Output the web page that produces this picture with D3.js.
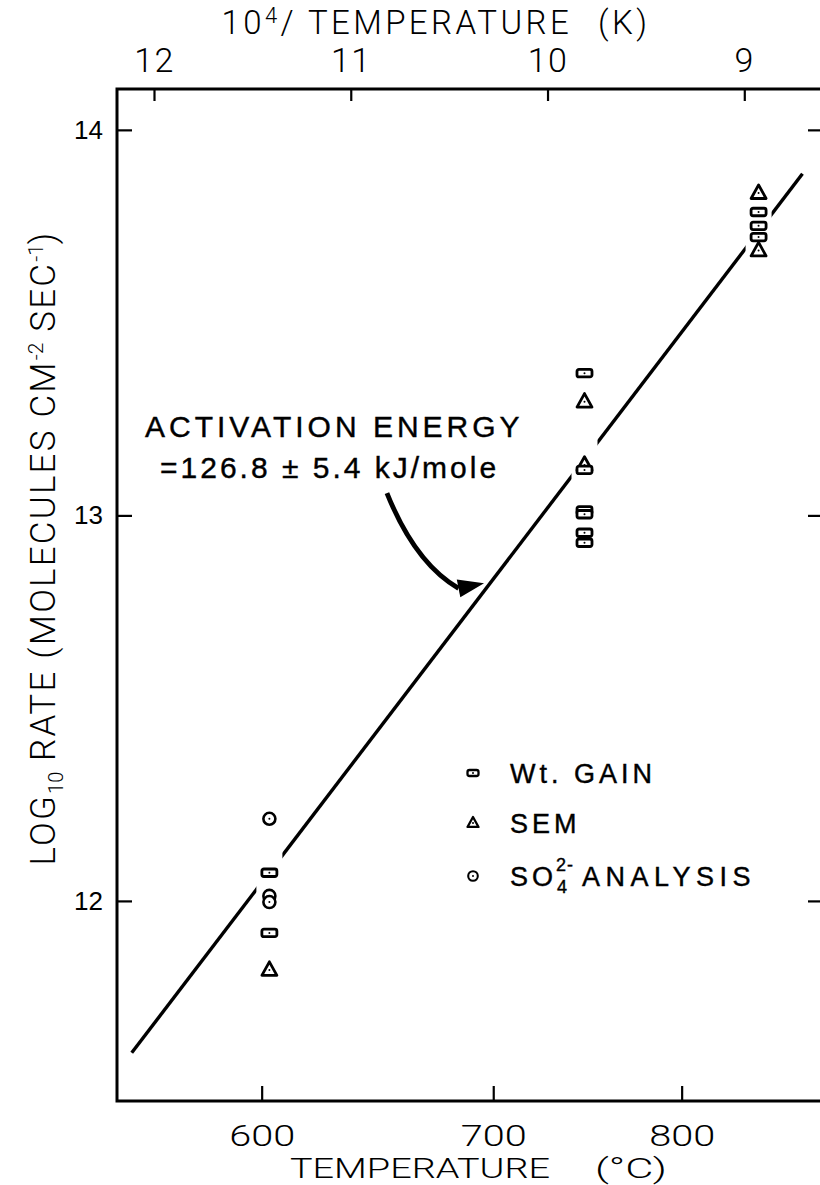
<!DOCTYPE html>
<html><head><meta charset="utf-8">
<script src="https://cdn.jsdelivr.net/npm/d3@7"></script>
<style>html,body{margin:0;padding:0;background:#fff;} svg{display:block;}</style>
</head><body>
<svg id="chart" width="820" height="1185"></svg>
<script>
// ---------- data ----------
const wtGainTempC   = [603, 603, 746, 746, 746, 746, 746, 746, 847, 847, 847];
const wtGainLogRate = [12.073, 11.917, 13.369, 13.118, 13.013, 13.003, 12.955, 12.929, 13.787, 13.751, 13.722];
const semTempC      = [603, 746, 746, 847, 847];
const semLogRate    = [11.821, 13.295, 13.131, 13.836, 13.687];
const so4TempC      = [603, 603, 603];
const so4LogRate    = [12.213, 12.013, 11.997];
const fitTempC      = [552.4, 875.7];
const fitLogRate    = [11.606, 13.886];
const invTTicks     = [12, 11, 10, 9];
const celsiusTicks  = [600, 700, 800];
const logRateTicks  = [12, 13, 14];
const arrowFrom     = [651.4, 13.058];   // [°C, log rate]
const arrowTo       = [695.6, 12.824];
const legendItems   = ["Wt. GAIN", "SEM", "SO4"];

// ---------- layout ----------
const W = 820, H = 1185;
const L = 117, R = 823, T = 89, B = 1101;
const toInvT = c => 1e4 / (c + 273.15);

const x = d3.scaleLinear().domain([12.188, 8.600]).range([L, R]);
const y = d3.scaleLinear().domain([11.481, 14.106]).range([B, T]);
const xc = c => x(toInvT(c));

const svg = d3.select("#chart");
const thin = "Roboto, 'Open Sans', 'Liberation Sans', sans-serif";
const bold = "'Liberation Sans', Arial, sans-serif";

// mask: gaps in fitted line at the data columns
const cols = Array.from(new Set([...wtGainTempC, ...semTempC, ...so4TempC]));
const mask = svg.append("defs").append("mask").attr("id", "gapmask")
  .attr("maskUnits", "userSpaceOnUse").attr("x", 0).attr("y", 0).attr("width", W).attr("height", H);
mask.append("rect").attr("width", W).attr("height", H).attr("fill", "#fff");
mask.selectAll("rect.g").data(cols).join("rect").attr("class", "g")
  .attr("x", d => xc(d) - 13).attr("y", 0).attr("width", 26).attr("height", H).attr("fill", "#000");

// fitted line
const line = d3.line().x(d => xc(d[0])).y(d => y(d[1]));
svg.append("path").datum(fitTempC.map((t, i) => [t, fitLogRate[i]]))
  .attr("d", line).attr("fill", "none").attr("stroke", "#000")
  .attr("stroke-width", 3.4).attr("mask", "url(#gapmask)");

// frame
svg.append("path").attr("d", `M${R},${T}H${L}V${B}H${R}`)
  .attr("fill", "none").attr("stroke", "#000").attr("stroke-width", 3);

// axes
const gB = svg.append("g").attr("transform", `translate(0,${B})`)
  .call(d3.axisBottom(x).tickValues(celsiusTicks.map(toInvT))
    .tickFormat((d, i) => celsiusTicks[i]).tickSizeInner(-15).tickSizeOuter(0).tickPadding(24));
const gT = svg.append("g").attr("transform", `translate(0,${T})`)
  .call(d3.axisTop(x).tickValues(invTTicks).tickFormat(d3.format("d"))
    .tickSizeInner(-12).tickSizeOuter(0).tickPadding(17));
const gL = svg.append("g").attr("transform", `translate(${L},0)`)
  .call(d3.axisLeft(y).tickValues(logRateTicks).tickFormat(d3.format("d"))
    .tickSizeInner(-15).tickSizeOuter(0).tickPadding(14));
const gR = svg.append("g").attr("transform", `translate(${R},0)`)
  .call(d3.axisRight(y).tickValues(logRateTicks).tickFormat("")
    .tickSizeInner(-15).tickSizeOuter(0));
[gB, gT, gL, gR].forEach(g => {
  g.select(".domain").remove();
  g.selectAll(".tick line").attr("stroke", "#000").attr("stroke-width", 2.2);
});
gB.selectAll("text").attr("font-family", thin).attr("font-weight", 300).attr("font-size", 29)
  .attr("textLength", 66).attr("lengthAdjust", "spacingAndGlyphs").attr("fill", "#000");
gT.selectAll("text").attr("font-family", thin).attr("font-weight", 300).attr("font-size", 34)
  .attr("letter-spacing", 1.5).attr("fill", "#000");
gL.selectAll("text").attr("font-family", bold).attr("font-size", 26).attr("fill", "#000");

// axis titles
svg.append("text").attr("x", 290).attr("y", 1178).attr("textLength", 260).attr("lengthAdjust", "spacingAndGlyphs")
  .attr("font-family", thin).attr("font-weight", 300).attr("font-size", 28).text("TEMPERATURE");
svg.append("text").attr("x", 595).attr("y", 1178).attr("textLength", 72).attr("lengthAdjust", "spacingAndGlyphs")
  .attr("font-family", thin).attr("font-weight", 300).attr("font-size", 28).text("(°C)");

const tt = svg.append("text").attr("x", 436).attr("y", 34).attr("text-anchor", "middle")
  .attr("letter-spacing", 3.4).attr("font-family", thin).attr("font-weight", 300).attr("font-size", 33);
tt.append("tspan").text("10");
tt.append("tspan").attr("dy", -11).attr("font-size", 22).text("4");
tt.append("tspan").attr("dy", 11).text("/ TEMPERATURE");
tt.append("tspan").attr("dx", 26).text("(K)");

const ty = svg.append("text").attr("transform", `translate(55,548) rotate(-90)`).attr("text-anchor", "middle")
  .attr("letter-spacing", 2.2).attr("font-family", thin).attr("font-weight", 300).attr("font-size", 35);
ty.append("tspan").text("LOG");
ty.append("tspan").attr("dy", 8).attr("font-size", 20).attr("letter-spacing", 0).text("10");
ty.append("tspan").attr("dy", -8).text(" RATE (MOLECULES CM");
ty.append("tspan").attr("dy", -12).attr("font-size", 21).attr("letter-spacing", 0).text("-2");
ty.append("tspan").attr("dy", 12).text(" SEC");
ty.append("tspan").attr("dy", -12).attr("font-size", 21).attr("letter-spacing", 0).text("-1");
ty.append("tspan").attr("dy", 12).text(")");

// markers
function square(g, w, h, sw) {
  g.append("rect").attr("x", -w/2).attr("y", -h/2).attr("width", w).attr("height", h)
    .attr("rx", 2).attr("fill", "#fff").attr("stroke", "#000").attr("stroke-width", sw);
  g.append("circle").attr("r", 1).attr("fill", "#000");
}
function triangle(g, s, sw) {
  const h = s * 0.9;
  g.append("path").attr("d", `M0,${-h*0.6}L${s/2},${h*0.4}L${-s/2},${h*0.4}Z`)
    .attr("fill", "#fff").attr("stroke", "#000").attr("stroke-width", sw).attr("stroke-linejoin", "round");
  g.append("circle").attr("r", 1).attr("fill", "#000");
}
function ring(g, r, sw) {
  g.append("circle").attr("r", r).attr("fill", "#fff").attr("stroke", "#000").attr("stroke-width", sw);
  g.append("circle").attr("r", 1).attr("fill", "#000");
}
svg.append("g").selectAll("g").data(so4TempC.map((t, i) => [t, so4LogRate[i]])).join("g")
  .attr("transform", d => `translate(${xc(d[0])},${y(d[1])})`).each(function(){ ring(d3.select(this), 6, 2.6); });
svg.append("g").selectAll("g").data(semTempC.map((t, i) => [t, semLogRate[i]])).join("g")
  .attr("transform", d => `translate(${xc(d[0])},${y(d[1])})`).each(function(){ triangle(d3.select(this), 15, 2.8); });
svg.append("g").selectAll("g").data(wtGainTempC.map((t, i) => [t, wtGainLogRate[i]])).join("g")
  .attr("transform", d => `translate(${xc(d[0])},${y(d[1])})`).each(function(){ square(d3.select(this), 15, 7.5, 2.8); });

// legend
const lg = svg.append("g").attr("transform", "translate(473,0)");
const legY = [773, 823, 876];
square(lg.append("g").attr("transform", `translate(0,${legY[0]})`), 11, 6, 2.3);
triangle(lg.append("g").attr("transform", `translate(0,${legY[1]})`), 11, 2.3);
ring(lg.append("g").attr("transform", `translate(0,${legY[2]})`), 4.8, 2.1);
const legText = (yy) => svg.append("text").attr("x", 510).attr("y", yy + 10)
  .attr("font-family", bold).attr("font-size", 27).attr("letter-spacing", 4)
  .attr("fill", "#000").attr("stroke", "#000").attr("stroke-width", 0.4);
legText(legY[0]).text(legendItems[0]);
legText(legY[1]).text(legendItems[1]);
const l3 = legText(legY[2]);
l3.append("tspan").text("SO");
l3.append("tspan").attr("dy", 7).attr("font-size", 18).text("4");
l3.append("tspan").attr("dx", -15).attr("dy", -22).attr("font-size", 18).attr("letter-spacing", 1).text("2-");
l3.append("tspan").attr("dx", 8).attr("dy", 15).attr("letter-spacing", 5.5).text("ANALYSIS");

// annotation
svg.append("text").attr("x", 145).attr("y", 437).attr("font-family", bold).attr("font-size", 30)
  .attr("letter-spacing", 4).attr("fill", "#000").attr("stroke", "#000").attr("stroke-width", 0.4)
  .text("ACTIVATION ENERGY");
svg.append("text").attr("x", 160).attr("y", 478).attr("font-family", bold).attr("font-size", 30)
  .attr("letter-spacing", 3).attr("fill", "#000").attr("stroke", "#000").attr("stroke-width", 0.4)
  .text("=126.8 ± 5.4 kJ/mole");

// arrow
const p0 = [xc(arrowFrom[0]), y(arrowFrom[1])];
const p1 = [xc(arrowTo[0]), y(arrowTo[1])];
const ctrl = [p0[0] + 28, p0[1] + 70];
const headLen = 26;
const ang = Math.atan2(p1[1] - ctrl[1] - 40, p1[0] - ctrl[0] + 30);
const base = [p1[0] - headLen * Math.cos(ang), p1[1] - headLen * Math.sin(ang)];
svg.append("path").attr("d", `M${p0[0]},${p0[1]}Q${ctrl[0]},${ctrl[1]} ${base[0]},${base[1]}`)
  .attr("fill", "none").attr("stroke", "#000").attr("stroke-width", 4.8);
const nx = -Math.sin(ang), ny = Math.cos(ang);
svg.append("path").attr("d",
  `M${p1[0]},${p1[1]}L${base[0] + nx*9},${base[1] + ny*9}L${base[0] - nx*9},${base[1] - ny*9}Z`)
  .attr("fill", "#000");
</script>
</body></html>
